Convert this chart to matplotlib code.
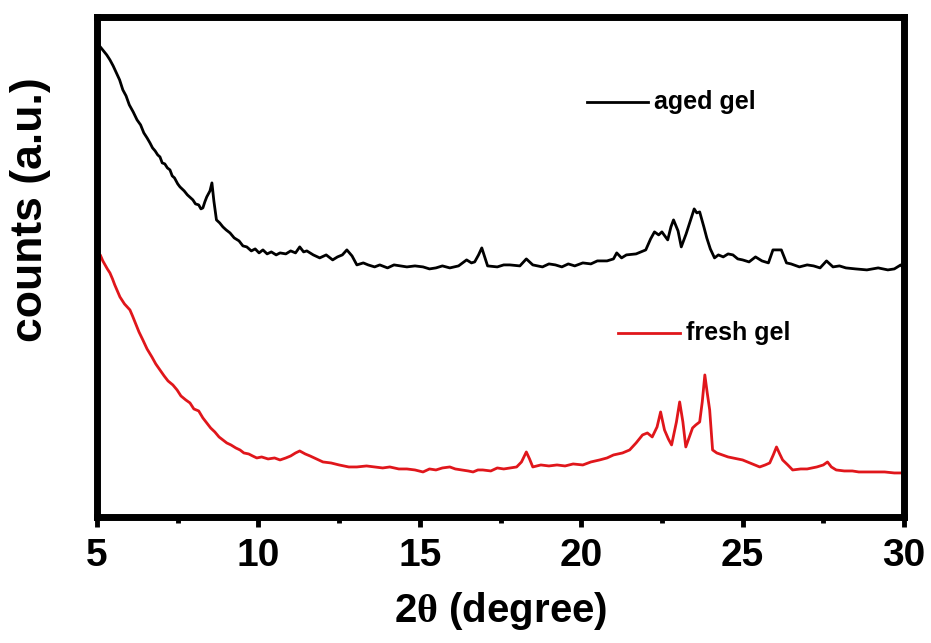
import matplotlib.pyplot as plt
from matplotlib.ticker import MultipleLocator

plt.rcParams["font.family"] = ["Liberation Sans", "DejaVu Sans"]
plt.rcParams["mathtext.fontset"] = "custom"
plt.rcParams["mathtext.rm"] = "Liberation Serif"
plt.rcParams["mathtext.it"] = "Liberation Serif:bold"

# aged gel (black), 2theta / counts (a.u.)
aged_x = [5.0, 5.1, 5.2, 5.3, 5.4, 5.5, 5.6, 5.7, 5.8, 5.9, 6.0, 6.12, 6.24, 6.35, 6.45, 6.55,
          6.64, 6.72, 6.8, 6.88, 6.95, 7.02, 7.1, 7.18, 7.26, 7.33, 7.4, 7.5, 7.57, 7.7, 7.8,
          7.9, 7.97, 8.05, 8.15, 8.22, 8.28, 8.34, 8.4, 8.5, 8.56, 8.62, 8.7, 8.8, 8.9, 9.0,
          9.12, 9.25, 9.4, 9.52, 9.64, 9.78, 9.9, 10.02, 10.14, 10.27, 10.4, 10.55, 10.67,
          10.85, 11.0, 11.15, 11.28, 11.4, 11.5, 11.7, 11.9, 12.1, 12.3, 12.45, 12.6, 12.74,
          12.9, 13.05, 13.25, 13.4, 13.6, 13.76, 14.0, 14.2, 14.4, 14.6, 14.85, 15.1, 15.3,
          15.5, 15.7, 15.93, 16.2, 16.45, 16.6, 16.7, 16.82, 16.92, 17.02, 17.1, 17.4, 17.6,
          17.79, 18.1, 18.3, 18.5, 18.8, 19.0, 19.2, 19.4, 19.6, 19.8, 20.05, 20.3, 20.5,
          20.8, 21.0, 21.1, 21.25, 21.4, 21.7, 22.0, 22.15, 22.27, 22.4, 22.5, 22.68, 22.78,
          22.86, 23.0, 23.1, 23.25, 23.36, 23.5, 23.58, 23.67, 23.8, 23.89, 24.0, 24.13, 24.25,
          24.4, 24.55, 24.7, 24.85, 25.0, 25.2, 25.4, 25.6, 25.8, 25.94, 26.2, 26.36, 26.5,
          26.76, 27.0, 27.2, 27.4, 27.6, 27.8, 28.0, 28.2, 28.5, 28.85, 29.2, 29.5, 29.7,
          29.9, 30.0]
aged_y = [474, 470, 466, 462, 457, 451, 444, 437, 427, 421, 412, 405, 397, 392, 384, 379,
          374, 369, 366, 362, 360, 354, 353, 349, 347, 341, 339, 333, 330, 326, 322,
          319, 317, 313, 312, 308, 309, 315, 320, 326, 334, 316, 297, 294, 290, 287,
          284, 279, 276, 271, 270, 266, 268, 264, 267, 263, 265, 262, 264,
          263, 266, 264, 270, 265, 266, 262, 259, 262, 257, 260, 262, 267,
          261, 252, 254, 252, 250, 252, 249, 252, 251, 250, 251, 250, 248,
          249, 251, 249, 251, 257, 254, 255, 262, 269, 259, 251, 250, 252,
          252, 251, 258, 252, 250, 253, 252, 250, 253, 251, 254, 253, 256,
          256, 258, 264, 259, 262, 263, 267, 278, 285, 282, 285, 277, 290,
          297, 286, 270, 283, 294, 308, 304, 305, 290, 279, 268, 259, 262,
          260, 263, 262, 258, 257, 255, 260, 256, 254, 267, 267, 254, 253,
          250, 252, 251, 249, 256, 250, 251, 249, 248, 247, 249, 247, 248,
          252, 248]

# fresh gel (red)
fresh_x = [5.0, 5.1, 5.18, 5.25, 5.32, 5.4, 5.48, 5.55, 5.63, 5.71, 5.85, 6.02, 6.1, 6.2, 6.3,
           6.42, 6.55, 6.7, 6.82, 6.95, 7.08, 7.2, 7.35, 7.48, 7.6, 7.75, 7.88, 8.0, 8.15,
           8.28, 8.4, 8.52, 8.65, 8.78, 8.9, 9.02, 9.15, 9.3, 9.43, 9.55, 9.7, 9.82, 9.95,
           10.1, 10.3, 10.5, 10.67, 10.85, 11.0, 11.15, 11.28, 11.45, 11.6, 11.8, 12.0, 12.25,
           12.5, 12.8, 13.05, 13.35, 13.6, 13.85, 14.07, 14.35, 14.6, 14.85, 15.1, 15.3, 15.5,
           15.7, 15.93, 16.1, 16.3, 16.5, 16.65, 16.8, 16.95, 17.2, 17.4, 17.6, 17.79, 18.0,
           18.15, 18.3, 18.4, 18.5, 18.75, 19.0, 19.25, 19.5, 19.75, 20.05, 20.3, 20.57, 20.8,
           21.0, 21.28, 21.5, 21.7, 21.9, 22.05, 22.2, 22.35, 22.46, 22.58, 22.7, 22.8, 22.95,
           23.05, 23.15, 23.24, 23.35, 23.45, 23.55, 23.67, 23.75, 23.83, 23.9, 23.98, 24.07,
           24.2, 24.38, 24.55, 24.7, 24.85, 25.0, 25.15, 25.3, 25.53, 25.7, 25.84, 25.95, 26.05,
           26.15, 26.24, 26.4, 26.55, 26.8, 27.0, 27.3, 27.5, 27.63, 27.75, 27.9, 28.15, 28.4,
           28.6, 28.85, 29.1, 29.4, 29.7, 29.97]
fresh_y = [264, 262, 256, 252, 248, 244, 238, 232, 226, 220, 213, 207, 201, 193, 185,
           177, 168, 160, 153, 147, 141, 136, 132, 127, 121, 117, 114, 108, 106,
           99, 94, 89, 85, 80, 77, 74, 72, 69, 67, 64, 63, 61, 59,
           60, 58, 59, 57, 59, 61, 64, 66, 63, 61, 58, 55, 54,
           52, 50, 50, 51, 50, 49, 50, 48, 48, 47, 45, 48, 47,
           49, 50, 48, 47, 46, 45, 47, 47, 46, 49, 48, 49, 50,
           55, 65, 58, 50, 52, 51, 52, 51, 53, 52, 55, 57, 59,
           62, 64, 67, 74, 82, 84, 80, 90, 105, 87, 78, 72, 95,
           115, 95, 70, 80, 89, 92, 95, 115, 142, 125, 107, 67,
           64, 62, 60, 59, 58, 57, 55, 53, 50, 52, 54, 62, 70,
           63, 57, 52, 47, 48, 48, 50, 52, 55, 50, 47, 46, 46,
           45, 45, 45, 45, 44, 44]

fig = plt.figure(figsize=(9.31, 6.43), dpi=100)
ax = fig.add_axes([0.1042, 0.196, 0.8668, 0.7778])

ax.plot(aged_x, aged_y, color="black", linewidth=2)
ax.plot(fresh_x, fresh_y, color="#e0161b", linewidth=2)

ax.set_xlim(5, 30)
ax.set_ylim(0, 500)

for s in ax.spines.values():
    s.set_linewidth(5)

ax.xaxis.set_major_locator(MultipleLocator(5))
ax.xaxis.set_minor_locator(MultipleLocator(2.5))
ax.tick_params(axis="x", which="major", direction="out", length=7, width=3.5,
               labelsize=28, pad=8, top=False)
ax.tick_params(axis="x", which="minor", direction="out", length=4, width=3.5, top=False)
ax.tick_params(axis="y", left=False, right=False, labelleft=False)
for lab in ax.get_xticklabels():
    lab.set_fontweight("bold")

ax.set_xlabel(r"2$\theta$ (degree)", fontsize=29, fontweight="bold", labelpad=12)
ax.set_ylabel("counts (a.u.)", fontsize=32, fontweight="bold")
ax.yaxis.set_label_coords(-0.057, 0.614)

# legend entries
ax.plot([0.607, 0.683], [0.83, 0.83], transform=ax.transAxes, color="black", linewidth=2)
ax.text(0.69, 0.83, "aged gel", transform=ax.transAxes, fontsize=18, fontweight="bold",
        va="center", ha="left")
ax.plot([0.645, 0.722], [0.368, 0.368], transform=ax.transAxes, color="#e0161b", linewidth=2)
ax.text(0.73, 0.368, "fresh gel", transform=ax.transAxes, fontsize=18, fontweight="bold",
        va="center", ha="left")

plt.savefig("out.png", dpi=100)
